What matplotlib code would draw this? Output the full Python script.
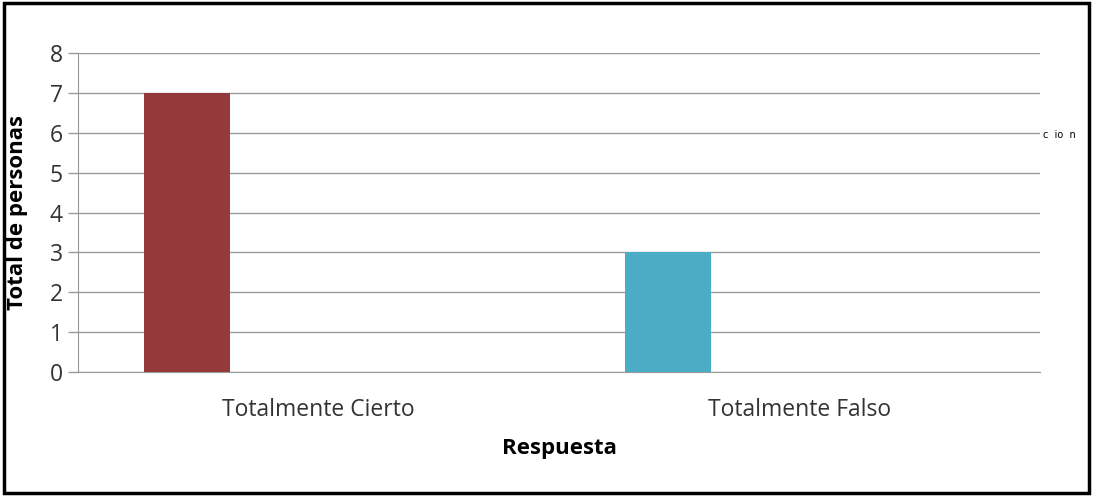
import matplotlib.pyplot as plt
from matplotlib.patches import Rectangle

categories = ['Totalmente Cierto', 'Totalmente Falso']
values = [7, 3]
colors = ['#953A3A', '#4BACC6']
yticks = [0, 1, 2, 3, 4, 5, 6, 7, 8]

plt.rcParams['font.family'] = ['Open Sans', 'DejaVu Sans']

fig = plt.figure(figsize=(10.94, 4.96), dpi=100)
ax = fig.add_axes([78 / 1094, 1 - 372 / 496, (1040 - 78) / 1094, (372 - 53) / 496])

x = range(len(categories))
bar_x = [i - 0.273 for i in x]
ax.bar(bar_x, values, width=0.179, color=colors, zorder=3)

ax.set_xlim(-0.5, len(categories) - 0.5)
ax.set_ylim(0, 8)
ax.set_yticks(yticks)
ax.set_xticks(list(x))
ax.set_xticklabels(categories, fontsize=16.5, color='#333333')
ax.tick_params(axis='x', length=0, pad=19)
ax.tick_params(axis='y', length=7, width=1, color='#999999', labelsize=16.5, pad=4, labelcolor='#333333')
ax.grid(axis='y', color='#999999', linewidth=1, zorder=0)

for s in ['top', 'right']:
    ax.spines[s].set_visible(False)
ax.spines['left'].set_color('#999999')
ax.spines['bottom'].set_color('#999999')

ax.set_xlabel('Respuesta', fontsize=16, fontweight='bold', labelpad=11, color='black')
ax.set_ylabel('Total de personas', fontsize=16, fontweight='bold', labelpad=14, color='black')
ax.yaxis.set_label_coords(-50 / 962, 0.5)

fig.text(1043 / 1094, 1 - 135 / 496, 'c  io  n', fontsize=7, family='DejaVu Sans', va='center')

fig.patches.append(Rectangle((4 / 1094, 3 / 496), 1085 / 1094, 490 / 496, transform=fig.transFigure,
                             fill=False, edgecolor='black', linewidth=2.5))

fig.savefig('out.png', dpi=100)
